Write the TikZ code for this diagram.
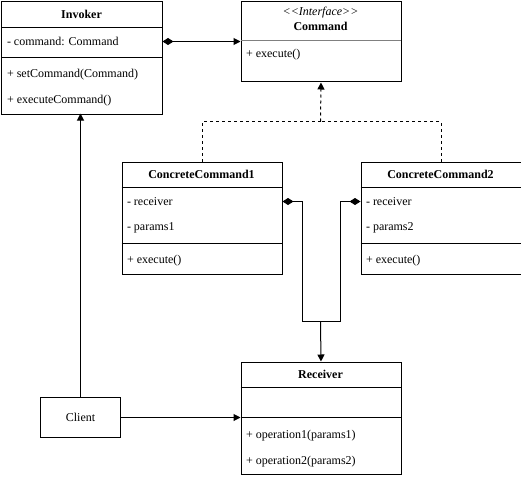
\documentclass[tikz,border=0pt]{standalone}
\usepackage{fontspec}
\setmainfont{Liberation Serif}
\newfontfamily\rawserif{Liberation Serif}
\usetikzlibrary{arrows.meta}
\begin{document}
\begin{tikzpicture}[x=1pt,y=-1pt,line width=1pt,
  font=\fontsize{12}{14}\selectfont,
  box/.style={draw, rectangle, anchor=north west, minimum width=160pt, minimum height=#1, inner sep=0pt},
  ttl/.style={font=\fontsize{12}{14}\selectfont\bfseries, inner sep=0pt},
  attr/.style={anchor=west, inner sep=0pt},
  sep/.style={line width=1pt},
  tri/.style={-{Triangle[length=7pt,width=7pt]}},
  comp/.style={{Diamond[length=11pt,width=7pt]}-},
  comptri/.style={{Diamond[length=11pt,width=7pt]}-{Triangle[length=7pt,width=7pt]}},
  dsh/.style={dash pattern=on 3pt off 3pt}
]
\useasboundingbox (-0.5,-0.5) rectangle (520.5,475.5);
% Invoker
\node[box=112pt] (inv) at (1,1) {};
\node[ttl] (invt) at (81,14) {Invoker};
\draw[sep] (1,27) -- (161,27);
\node[attr] (inva) at (6,41) {- command: Command};
\draw[sep] (1,57) -- (161,57);
\node[attr] (invm1) at (6,74) {+ setCommand(Command)};
\node[attr] (invm2) at (6,100) {+ executeCommand()};
% Command
\node[box=80pt] (cmd) at (240,1) {};
\node[inner sep=0pt, font=\fontsize{12}{14}\rawserif\itshape] (cmds) at (320,12) {<<Interface>>};
\node[ttl] (cmdt) at (320,26) {Command};
\draw[sep, gray] (240,40) -- (400,40);
\node[attr] (cmdm) at (245,54) {+ execute()};
% ConcreteCommand1
\node[box=112pt] (cc1) at (121,161) {};
\node[ttl] (cc1t) at (201,174) {ConcreteCommand1};
\draw[sep] (121,187) -- (281,187);
\node[attr] (cc1r) at (126,201) {- receiver};
\node[attr] (cc1p) at (126,227) {- params1};
\draw[sep] (121,243) -- (281,243);
\node[attr] (cc1m) at (126,260) {+ execute()};
% ConcreteCommand2
\node[box=112pt] (cc2) at (360,161) {};
\node[ttl] (cc2t) at (440,174) {ConcreteCommand2};
\draw[sep] (360,187) -- (520,187);
\node[attr] (cc2r) at (365,201) {- receiver};
\node[attr] (cc2p) at (365,227) {- params2};
\draw[sep] (360,243) -- (520,243);
\node[attr] (cc2m) at (365,260) {+ execute()};
% Receiver
\node[box=112pt] (rec) at (240,361) {};
\node[ttl] (rect) at (320,374) {Receiver};
\draw[sep] (240,387) -- (400,387);
\draw[sep] (240,417) -- (400,417);
\node[attr] (recm1) at (245,435) {+ operation1(params1)};
\node[attr] (recm2) at (245,461) {+ operation2(params2)};
% Client
\node[draw, rectangle, minimum width=80pt, minimum height=40pt, inner sep=0pt] (cli) at (80,417) {Client};
% connectors
\coordinate (joint) at (320,121);
\coordinate (merge) at (320,321);
\coordinate (invtop) at (80,113);
\draw[comptri] (inva -| inv.east) -- (inva -| cmd.west);
\draw[dsh] (cc1.north) |- (joint);
\draw[dsh] (cc2.north) |- (joint);
\draw[dsh, tri] (joint) -- (cmd.south);
\draw[comp] (cc1r -| cc1.east) -- ++(20,0) |- (merge);
\draw[comp] (cc2r -| cc2.west) -- ++(-20,0) |- (merge);
\draw[tri] (merge) -- (rec.north);
\draw[tri] (cli.north) -- (invtop);
\draw[tri] (cli.east) -- (cli.east -| rec.west);
\end{tikzpicture}
\end{document}
